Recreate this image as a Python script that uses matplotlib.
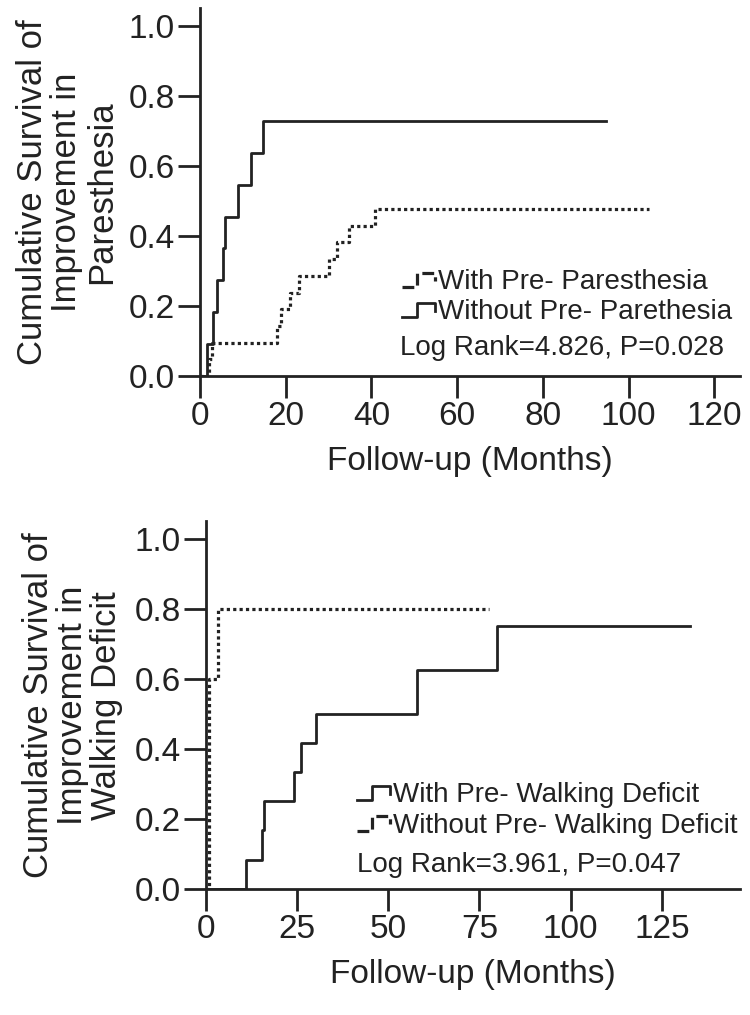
import matplotlib
matplotlib.use("Agg")
import matplotlib.pyplot as plt
from matplotlib.legend_handler import HandlerBase
from matplotlib.lines import Line2D

plt.rcParams['font.family'] = ['Liberation Sans', 'DejaVu Sans']

# --- top panel: paresthesia (times in months, cumulative survival) ---
par_with_t = [0, 2.0, 2.8, 17.9, 18.8, 20.9, 23.0, 30.0, 31.9, 34.8, 40.9, 104.7]
par_with_s = [0, 0.048, 0.095, 0.143, 0.190, 0.238, 0.286, 0.333, 0.381, 0.429, 0.476, 0.476]
par_without_t = [0, 1.7, 3.0, 3.9, 5.4, 5.8, 8.9, 11.8, 14.8, 94.8]
par_without_s = [0, 0.091, 0.182, 0.273, 0.364, 0.455, 0.545, 0.636, 0.727, 0.727]
par_labels = ["With Pre- Paresthesia", "Without Pre- Parethesia"]
par_stat = "Log Rank=4.826, P=0.028"
par_xticks = [0, 20, 40, 60, 80, 100, 120]

# --- bottom panel: walking deficit ---
walk_with_t = [0, 11.0, 15.3, 16.0, 24.2, 26.0, 30.2, 57.8, 79.7, 132.7]
walk_with_s = [0, 0.083, 0.167, 0.250, 0.333, 0.417, 0.500, 0.625, 0.750, 0.750]
walk_without_t = [0, 0.8, 0.9, 1.0, 3.4, 77.7]
walk_without_s = [0, 0.2, 0.4, 0.6, 0.8, 0.8]
walk_labels = ["With Pre- Walking Deficit", "Without Pre- Walking Deficit"]
walk_stat = "Log Rank=3.961, P=0.047"
walk_xticks = [0, 25, 50, 75, 100, 125]

yticks = [0.0, 0.2, 0.4, 0.6, 0.8, 1.0]

INK = '#222222'
DOT = (0, (1.0, 1.0))


class StepHandler(HandlerBase):
    # little step glyph used as legend key
    def create_artists(self, legend, orig_handle, xdescent, ydescent,
                       width, height, fontsize, trans):
        w, h = width, height
        x0, y0 = -xdescent, -ydescent
        xs = [x0, x0 + 0.45 * w, x0 + 0.45 * w, x0 + w, x0 + w]
        ys = [y0 + 0.1 * h, y0 + 0.1 * h, y0 + 0.85 * h, y0 + 0.85 * h, y0 + 0.45 * h]
        ln = Line2D(xs, ys, color=orig_handle.get_color(),
                    linestyle=orig_handle.get_linestyle(),
                    linewidth=orig_handle.get_linewidth(), transform=trans)
        ln.set_dash_capstyle('butt')
        return [ln]


def style_axes(ax, xmax, xticks):
    ax.set_xlim(0, xmax)
    ax.set_ylim(0, 1.05)
    ax.set_xticks(xticks)
    ax.set_yticks(yticks)
    ax.set_yticklabels([f"{v:.1f}" for v in yticks])
    for s in ['top', 'right']:
        ax.spines[s].set_visible(False)
    for s in ['left', 'bottom']:
        ax.spines[s].set_linewidth(2.0)
        ax.spines[s].set_color(INK)
    ax.tick_params(length=16, width=2.0, color=INK, labelsize=24,
                   pad=2, labelcolor=INK)
    ax.set_xlabel("Follow-up (Months)", fontsize=24, color=INK, labelpad=10)


fig = plt.figure(figsize=(7.5, 10.15), dpi=100)

ax1 = fig.add_axes([0.2667, 0.6296, 0.72, 0.3625])
l1, = ax1.step(par_with_t, par_with_s, where='post', color=INK,
               linewidth=2.3, linestyle=DOT)
l2, = ax1.step(par_without_t, par_without_s, where='post', color=INK,
               linewidth=2.0)
style_axes(ax1, 126, par_xticks)
ax1.set_ylabel("Cumulative Survival of\nImprovement in\nParesthesia",
               fontsize=25, color=INK, linespacing=1.05, labelpad=8)
ax1.legend([l1, l2], par_labels, handler_map={Line2D: StepHandler()},
           loc='upper left', bbox_to_anchor=(0.374, 0.29), frameon=False,
           fontsize=20, borderpad=0, borderaxespad=0, handlelength=1.2,
           handletextpad=0.1, labelspacing=0.15, labelcolor=INK)
ax1.text(0.370, 0.077, par_stat, transform=ax1.transAxes, fontsize=20,
         va='center', ha='left', color=INK)

ax2 = fig.add_axes([0.2744, 0.1242, 0.7123, 0.3621])
l3, = ax2.step(walk_with_t, walk_with_s, where='post', color=INK,
               linewidth=2.0)
l4, = ax2.step(walk_without_t, walk_without_s, where='post', color=INK,
               linewidth=2.3, linestyle=DOT)
style_axes(ax2, 146.4, walk_xticks)
ax2.set_ylabel("Cumulative Survival of\nImprovement in\nWalking Deficit",
               fontsize=25, color=INK, linespacing=1.05, labelpad=8)
ax2.legend([l3, l4], walk_labels, handler_map={Line2D: StepHandler()},
           loc='upper left', bbox_to_anchor=(0.283, 0.29), frameon=False,
           fontsize=20, borderpad=0, borderaxespad=0, handlelength=1.2,
           handletextpad=0.1, labelspacing=0.15, labelcolor=INK)
ax2.text(0.283, 0.065, walk_stat, transform=ax2.transAxes, fontsize=20,
         va='center', ha='left', color=INK)

fig.savefig("out.png", dpi=100, facecolor='white')
